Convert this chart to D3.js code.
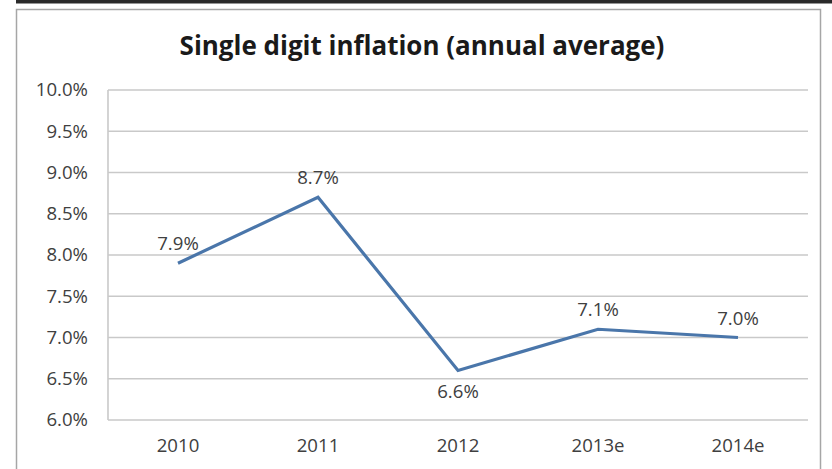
<!DOCTYPE html>
<html>
<head>
<meta charset="utf-8">
<script src="https://cdn.jsdelivr.net/npm/d3@7"></script>
<style>
  html, body { margin: 0; padding: 0; background: #fff; }
  svg { display: block; }
  text { font-family: "Open Sans", "DejaVu Sans", sans-serif; }
</style>
</head>
<body>
<script>
// Annual average inflation, actual and estimated
const years = ["2010", "2011", "2012", "2013e", "2014e"];
const inflation = [7.9, 8.7, 6.6, 7.1, 7.0];
const labelBelow = [false, false, true, false, false];
const yTicks = [6.0, 6.5, 7.0, 7.5, 8.0, 8.5, 9.0, 9.5, 10.0];
const title = "Single digit inflation (annual average)";

const W = 832, H = 469;
const plot = { left: 108, right: 808, top: 90, bottom: 420 };
const labelSize = "18.6px";

const svg = d3.select("body").append("svg")
  .attr("width", W).attr("height", H);

// page rule across the top and the chart frame
svg.append("rect")
  .attr("x", 16).attr("y", 0).attr("width", W - 16).attr("height", 3.5)
  .attr("fill", "#2a2a2a");
svg.append("rect")
  .attr("x", 16.5).attr("y", 9.5).attr("width", 804).attr("height", 480)
  .attr("fill", "#fff").attr("stroke", "#a6a6a6").attr("stroke-width", 1.5);

const x = d3.scaleBand().domain(years).range([plot.left, plot.right]);
const y = d3.scaleLinear().domain([6, 10]).range([plot.bottom, plot.top]);

// horizontal gridlines
svg.append("g")
  .selectAll("line").data(yTicks).join("line")
  .attr("x1", plot.left).attr("x2", plot.right)
  .attr("y1", d => y(d)).attr("y2", d => y(d))
  .attr("stroke", "#c9c9c9").attr("stroke-width", 1.6);

// vertical axis line
svg.append("line")
  .attr("x1", plot.left).attr("x2", plot.left)
  .attr("y1", plot.top).attr("y2", plot.bottom)
  .attr("stroke", "#c9c9c9").attr("stroke-width", 1.6);

// y axis tick labels
const yAxis = d3.axisLeft(y).tickValues(yTicks)
  .tickFormat(d => d.toFixed(1) + "%").tickSize(0).tickPadding(20);
const gy = svg.append("g").attr("transform", `translate(${plot.left},0)`).call(yAxis);
gy.select(".domain").remove();
gy.selectAll("text")
  .attr("fill", "#404040").style("font-size", labelSize)
  .style("font-family", "'Open Sans', sans-serif");

// x axis category labels
const xAxis = d3.axisBottom(x).tickSize(0).tickPadding(19);
const gx = svg.append("g").attr("transform", `translate(0,${plot.bottom})`).call(xAxis);
gx.select(".domain").remove();
gx.selectAll("text")
  .attr("fill", "#404040").style("font-size", labelSize)
  .style("font-family", "'Open Sans', sans-serif");

// series line
const cx = d => x(d) + x.bandwidth() / 2;
const pts = years.map((yr, i) => [cx(yr), y(inflation[i])]);
svg.append("path")
  .attr("d", d3.line()(pts))
  .attr("fill", "none")
  .attr("stroke", "#4a76aa").attr("stroke-width", 3.2)
  .attr("stroke-linejoin", "miter");

// value labels
svg.append("g")
  .selectAll("text").data(years).join("text")
  .attr("x", (d, i) => cx(d))
  .attr("y", (d, i) => y(inflation[i]) + (labelBelow[i] ? 27 : -13))
  .attr("text-anchor", "middle")
  .attr("fill", "#404040").style("font-size", labelSize)
  .text((d, i) => inflation[i].toFixed(1) + "%");

// title
const t = svg.append("text")
  .attr("x", 422).attr("y", 55)
  .attr("text-anchor", "middle")
  .attr("fill", "#1a1a1a")
  .style("font-weight", "bold").style("font-size", "26px")
  .text(title);
const tw = t.node().getComputedTextLength();
t.style("font-size", (26 * 485 / tw).toFixed(2) + "px");
</script>
</body>
</html>
